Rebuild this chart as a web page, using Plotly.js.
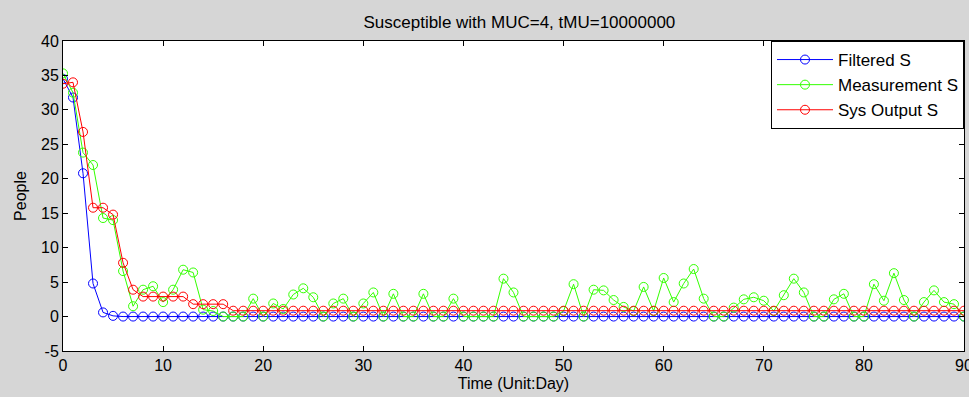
<!DOCTYPE html>
<html>
<head>
<meta charset="utf-8">
<script src="https://cdn.plot.ly/plotly-3.0.1.min.js"></script>
<style>
html,body{margin:0;padding:0;background:#d6d6d6;}
#chart{width:969px;height:397px;}
</style>
</head>
<body>
<div id="chart"></div>
<script>
// Days 0..90
const days = Array.from({length: 91}, (_, i) => i);

const filteredS = [
  34.5, 31.8, 20.8, 4.8, 0.6, 0.1, 0, 0, 0, 0,
  0, 0, 0, 0, 0, 0, 0, 0, 0, 0,
  0, 0, 0, 0, 0, 0, 0, 0, 0, 0,
  0, 0, 0, 0, 0, 0, 0, 0, 0, 0,
  0, 0, 0, 0, 0, 0, 0, 0, 0, 0,
  0, 0, 0, 0, 0, 0, 0, 0, 0, 0,
  0, 0, 0, 0, 0, 0, 0, 0, 0, 0,
  0, 0, 0, 0, 0, 0, 0, 0, 0, 0,
  0, 0, 0, 0, 0, 0, 0, 0, 0, 0,
  0
];

const measurementS = [
  35.3, 32.5, 23.8, 22.0, 14.3, 14.0, 6.6, 1.5, 3.9, 4.4,
  2.1, 3.9, 6.8, 6.4, 1.0, 0.8, 0, 0, 0, 2.6,
  0, 1.9, 1.1, 3.2, 4.1, 2.8, 0, 1.9, 2.6, 0,
  1.9, 3.5, 0, 3.3, 0, 0, 3.3, 0, 0, 2.6,
  0, 0, 0, 0, 5.5, 3.5, 0, 0, 0, 0,
  0.8, 4.7, 0, 3.9, 3.8, 2.4, 1.4, 0.8, 4.3, 0.8,
  5.6, 2.1, 4.8, 6.9, 2.6, 0, 0, 1.3, 2.5, 2.8,
  2.3, 0.8, 3.1, 5.5, 3.5, 0, 0, 2.5, 3.3, 0,
  0, 4.7, 2.3, 6.3, 2.4, 0, 2.1, 3.8, 2.1, 1.8,
  0
];

const sysOutputS = [
  33.8, 34.0, 26.8, 15.8, 15.8, 14.8, 7.8, 3.9, 2.9, 2.9,
  2.9, 2.9, 2.9, 1.8, 1.8, 1.8, 1.8, 0.85, 0.85, 0.85,
  0.85, 0.85, 0.85, 0.85, 0.85, 0.85, 0.85, 0.85, 0.85, 0.85,
  0.85, 0.85, 0.85, 0.85, 0.85, 0.85, 0.85, 0.85, 0.85, 0.85,
  0.85, 0.85, 0.85, 0.85, 0.85, 0.85, 0.85, 0.85, 0.85, 0.85,
  0.85, 0.85, 0.85, 0.85, 0.85, 0.85, 0.85, 0.85, 0.85, 0.85,
  0.85, 0.85, 0.85, 0.85, 0.85, 0.85, 0.85, 0.85, 0.85, 0.85,
  0.85, 0.85, 0.85, 0.85, 0.85, 0.85, 0.85, 0.85, 0.85, 0.85,
  0.85, 0.85, 0.85, 0.85, 0.85, 0.85, 0.85, 0.85, 0.85, 0.85,
  0.85
];

const xTicks = [0, 10, 20, 30, 40, 50, 60, 70, 80, 90];
const yTicks = [-5, 0, 5, 10, 15, 20, 25, 30, 35, 40];

function series(name, y, color) {
  return {
    x: days, y: y, name: name, type: 'scatter', mode: 'lines+markers',
    line: {color: color, width: 1},
    marker: {symbol: 'circle-open', size: 9, color: color, line: {width: 1, color: color}},
    cliponaxis: true
  };
}

const traces = [
  series('Filtered S', filteredS, '#0000ff'),
  series('Measurement S', measurementS, '#33ff00'),
  series('Sys Output S', sysOutputS, '#ff0000')
];

const fontFam = '"Liberation Sans", Arial, sans-serif';

const layout = {
  width: 969, height: 397,
  paper_bgcolor: '#d6d6d6', plot_bgcolor: '#ffffff',
  margin: {l: 63, r: 5, t: 41, b: 46, pad: 0},
  font: {family: fontFam, size: 16, color: '#000000'},
  title: {text: 'Susceptible with MUC=4, tMU=10000000', font: {size: 17, color: '#000'}, x: 0.536, xanchor: 'center', y: 0.945, yanchor: 'middle'},
  showlegend: true,
  legend: {
    x: 1, y: 1, xanchor: 'right', yanchor: 'top',
    bgcolor: '#ffffff', bordercolor: '#000000', borderwidth: 1,
    font: {size: 17, color: '#000'}, itemwidth: 56, tracegroupgap: 0
  },
  xaxis: {
    range: [0, 90], tickvals: xTicks, ticktext: xTicks.map(String),
    ticks: 'inside', ticklen: 5, tickcolor: '#000', tickwidth: 1,
    showline: true, linecolor: '#000', linewidth: 1, mirror: 'ticks',
    showgrid: false, zeroline: false, ticklabeloverflow: 'allow',
    tickfont: {size: 16},
    title: {text: 'Time (Unit:Day)', font: {size: 16}, standoff: 4}
  },
  yaxis: {
    range: [-5, 40], tickvals: yTicks, ticktext: yTicks.map(String),
    ticks: 'inside', ticklen: 5, tickcolor: '#000', tickwidth: 1,
    showline: true, linecolor: '#000', linewidth: 1, mirror: 'ticks',
    showgrid: false, zeroline: false,
    tickfont: {size: 16},
    title: {text: 'People', font: {size: 16}, standoff: 10}
  }
};

Plotly.newPlot('chart', traces, layout, {displayModeBar: false, staticPlot: true});
</script>
</body>
</html>
